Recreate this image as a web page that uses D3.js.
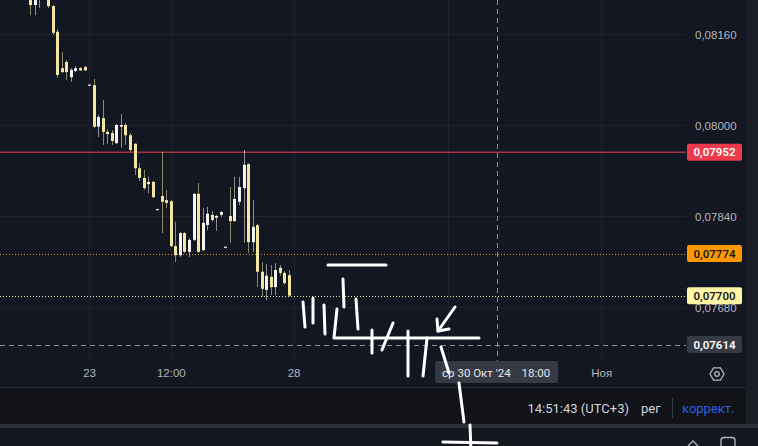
<!DOCTYPE html>
<html><head><meta charset="utf-8">
<script src="https://cdn.jsdelivr.net/npm/d3@7"></script>
<style>
html,body{margin:0;padding:0;background:#131722;overflow:hidden}
svg{display:block;font-family:Roboto,"Noto Sans",sans-serif}
</style></head><body>
<svg id="c" width="758" height="446"></svg>
<script>
// ---- data ----
const opens  = [0.08241,0.08211,0.08225,0.08264,0.08237,0.08209,0.08164,0.08100,0.08111,0.08084,0.08095,0.08100,0.08102,0.08069,0.08070,0.07997,0.08012,0.07988,0.07986,0.07968,0.07997,0.08000,0.07982,0.07967,0.07924,0.07907,0.07896,0.07900,0.07851,0.07875,0.07868,0.07866,0.07787,0.07771,0.07810,0.07777,0.07798,0.07879,0.07780,0.07824,0.07842,0.07837,0.07842,0.07784,0.07840,0.07831,0.07865,0.07889,0.07931,0.07794,0.07824,0.07742,0.07710,0.07733,0.07715,0.07749,0.07740,0.07736];
const highs  = [0.08251,0.08237,0.08273,0.08273,0.08244,0.08211,0.08169,0.08128,0.08114,0.08100,0.08104,0.08102,0.08104,0.08071,0.08081,0.08018,0.08044,0.07993,0.07991,0.08002,0.08019,0.08004,0.07986,0.07968,0.07933,0.07921,0.07909,0.07902,0.07853,0.07953,0.07886,0.07868,0.07830,0.07812,0.07812,0.07801,0.07880,0.07898,0.07854,0.07856,0.07849,0.07842,0.07849,0.07786,0.07891,0.07909,0.07909,0.07956,0.07933,0.07868,0.07826,0.07759,0.07756,0.07754,0.07757,0.07754,0.07743,0.07745];
const lows   = [0.08193,0.08193,0.08206,0.08229,0.08206,0.08158,0.08083,0.08091,0.08079,0.08076,0.08093,0.08095,0.08095,0.08069,0.07995,0.07979,0.07965,0.07967,0.07965,0.07967,0.07960,0.07965,0.07953,0.07912,0.07902,0.07886,0.07880,0.07872,0.07850,0.07810,0.07854,0.07786,0.07759,0.07768,0.07775,0.07768,0.07796,0.07775,0.07778,0.07815,0.07830,0.07814,0.07838,0.07783,0.07793,0.07830,0.07859,0.07793,0.07775,0.07777,0.07715,0.07698,0.07692,0.07701,0.07701,0.07735,0.07719,0.07698];
const closes = [0.08211,0.08230,0.08264,0.08237,0.08209,0.08162,0.08088,0.08093,0.08093,0.08097,0.08100,0.08096,0.08096,0.08071,0.07997,0.08014,0.07988,0.07984,0.07972,0.08000,0.08000,0.07982,0.07956,0.07924,0.07907,0.07889,0.07900,0.07873,0.07852,0.07865,0.07863,0.07787,0.07771,0.07810,0.07777,0.07798,0.07879,0.07777,0.07828,0.07844,0.07833,0.07840,0.07847,0.07786,0.07831,0.07870,0.07891,0.07930,0.07794,0.07821,0.07742,0.07712,0.07735,0.07715,0.07745,0.07740,0.07722,0.07700];

const priceTicks = [0.0816, 0.0800, 0.0784, 0.0768];
const timeTickPos = [13, 31, 58, 125.7];
const timeTickLabels = ["23", "12:00", "28", "Ноя"];
const timeGridPos = [13, 31, 58, 92, 125.7];   // grid at "30" whose label is hidden under the crosshair box

const levelPrices = [0.07952, 0.07774, 0.07700];   // red line, orange line, last price
const crosshairPrice = 0.07614;
const crosshairIndex = 102.8;
const crosshairDate = "ср 30 Окт '24";
const crosshairTime = "18:00";

const statusClock = "14:51:43 (UTC+3)";
const statusSession = "рег";
const statusAdj = "коррект.";

// hand-drawn annotation strokes, in [candle index, price]
const annoStrokes = [
 [[65.58,0.077539],[78.35,0.077539]],
 [[60.08,0.076888],[60.52,0.076448]],
 [[62.28,0.076958],[62.28,0.076519]],
 [[64.70,0.076835],[64.92,0.076325]],
 [[67.56,0.076765],[66.90,0.076255],[98.81,0.076255]],
 [[68.88,0.077292],[69.10,0.076800]],
 [[71.74,0.076941],[72.18,0.076413]],
 [[75.26,0.076396],[75.26,0.075991]],
 [[79.89,0.076519],[77.46,0.076044]],
 [[83.19,0.076378],[83.19,0.075587]],
 [[87.37,0.076255],[86.49,0.075587]],
 [[90.45,0.076097],[92.21,0.075640]],
 [[94.41,0.075464],[95.51,0.074778]],
 [[96.83,0.074725],[97.05,0.074286]],
 [[90.89,0.074427],[102.77,0.074409]],
 [[93.53,0.076800],[89.79,0.076378]],
 [[89.57,0.076589],[89.79,0.076378],[92.21,0.076413]]
];

// ---- layout ----
const W = 758, H = 446, plotR = 686, plotB = 361;
const svg = d3.select("#c");
const x = d3.scaleLinear().domain([0, 57]).range([30, 289]);
const y = d3.scaleLinear().domain([0.0768, 0.0816]).range([307, 34]);
const fmt = d3.formatLocale({decimal: ",", thousands: " ", grouping: [3], currency: ["", ""]}).format(".5f");

const UP = "#f4f4f4", DOWN = "#f3e6a1";

svg.append("rect").attr("width", W).attr("height", H).attr("fill", "#131722");
// status bar & bottom panel
svg.append("rect").attr("x", 0).attr("y", 388).attr("width", 746).attr("height", 36).attr("fill", "#111318");
svg.append("rect").attr("x", 0).attr("y", 387).attr("width", 746).attr("height", 1).attr("fill", "#2a2e39");
svg.append("rect").attr("x", 0).attr("y", 424).attr("width", W).attr("height", 4).attr("fill", "#2c2f37");
svg.append("rect").attr("x", 0).attr("y", 428).attr("width", W).attr("height", 18).attr("fill", "#15181f");
svg.append("rect").attr("x", 746).attr("y", 0).attr("width", 12).attr("height", 424).attr("fill", "#1b1e26");

svg.append("defs").append("clipPath").attr("id", "plot")
  .append("rect").attr("x", 0).attr("y", 0).attr("width", plotR).attr("height", plotB);

// grid
const grid = svg.append("g").attr("stroke", "#1d2130").attr("stroke-width", 1);
grid.selectAll("line.h").data(priceTicks).join("line")
  .attr("x1", 0).attr("x2", plotR)
  .attr("y1", d => Math.round(y(d)) + 0.5).attr("y2", d => Math.round(y(d)) + 0.5);
grid.selectAll("line.v").data(timeGridPos).join("line")
  .attr("y1", 0).attr("y2", plotB)
  .attr("x1", d => Math.round(x(d)) + 0.5).attr("x2", d => Math.round(x(d)) + 0.5);

// price level lines
const plot = svg.append("g").attr("clip-path", "url(#plot)");
plot.append("line").attr("x1", 0).attr("x2", plotR)
  .attr("y1", y(levelPrices[0])).attr("y2", y(levelPrices[0]))
  .attr("stroke", "#c2374a").attr("stroke-width", 1.6).attr("opacity", 0.85);
plot.append("line").attr("x1", 0).attr("x2", plotR)
  .attr("y1", Math.round(y(levelPrices[1])) + 0.5).attr("y2", Math.round(y(levelPrices[1])) + 0.5)
  .attr("stroke", "#e8900e").attr("stroke-width", 1).attr("stroke-dasharray", "1,2");
plot.append("line").attr("x1", 0).attr("x2", plotR)
  .attr("y1", Math.round(y(levelPrices[2])) + 0.5).attr("y2", Math.round(y(levelPrices[2])) + 0.5)
  .attr("stroke", "#e9e3b4").attr("stroke-width", 1).attr("stroke-dasharray", "1,2");

// candles
const idx = opens.map((_, i) => i);
const cg = plot.append("g");
cg.selectAll("line.w").data(idx).join("line")
  .attr("x1", i => Math.round(x(i)) + 0.5).attr("x2", i => Math.round(x(i)) + 0.5)
  .attr("y1", i => y(highs[i])).attr("y2", i => y(lows[i]))
  .attr("stroke", i => closes[i] >= opens[i] ? UP : DOWN)
  .attr("stroke-opacity", 0.55).attr("stroke-width", 1);
cg.selectAll("rect.b").data(idx).join("rect")
  .attr("x", i => Math.round(x(i)) - 1)
  .attr("width", 3)
  .attr("y", i => y(Math.max(opens[i], closes[i])))
  .attr("height", i => Math.max(1, Math.abs(y(opens[i]) - y(closes[i]))))
  .attr("fill", i => closes[i] >= opens[i] ? UP : DOWN);

// crosshair
plot.append("line").attr("x1", 0).attr("x2", plotR)
  .attr("y1", Math.round(y(crosshairPrice)) + 0.5).attr("y2", Math.round(y(crosshairPrice)) + 0.5)
  .attr("stroke", "#8a8e99").attr("stroke-dasharray", "5,4");
plot.append("line").attr("y1", 0).attr("y2", plotB)
  .attr("x1", Math.round(x(crosshairIndex)) + 0.5).attr("x2", Math.round(x(crosshairIndex)) + 0.5)
  .attr("stroke", "#8a8e99").attr("stroke-dasharray", "5,4");

// price axis
const yAxis = d3.axisRight(y).tickValues(priceTicks).tickFormat(fmt).tickSize(0).tickPadding(0);
const ya = svg.append("g").attr("transform", "translate(695,0)").call(yAxis);
ya.select(".domain").remove();
ya.selectAll("text").attr("fill", "#b2b5be").attr("font-size", "11.5px").attr("dy", "0.35em");

// time axis
const xAxis = d3.axisBottom(x).tickValues(timeTickPos).tickFormat((d, i) => timeTickLabels[i]).tickSize(0).tickPadding(0);
const xa = svg.append("g").attr("transform", "translate(0,373)").call(xAxis);
xa.select(".domain").remove();
xa.selectAll("text").attr("fill", "#b2b5be").attr("font-size", "11.5px").attr("dy", "0.35em");

// price labels (boxes)
function priceBox(p, bg, fg) {
  const cy = y(p);
  svg.append("rect").attr("x", 687).attr("y", cy - 8.5).attr("width", 55).attr("height", 17)
    .attr("rx", 2).attr("fill", bg);
  svg.append("text").attr("x", 714.5).attr("y", cy).attr("dy", "0.36em")
    .attr("text-anchor", "middle").attr("font-size", "11.5px").attr("font-weight", 600)
    .attr("fill", fg).text(fmt(p));
}
priceBox(levelPrices[0], "#ec3a4c", "#ffffff");
priceBox(levelPrices[1], "#ff9800", "#1b1b1b");
priceBox(levelPrices[2], "#fff5a6", "#1b1b1b");
priceBox(crosshairPrice, "#363a45", "#ffffff");

// time crosshair label
const cx = x(crosshairIndex);
svg.append("rect").attr("x", cx - 62).attr("y", 361).attr("width", 123).attr("height", 22)
  .attr("rx", 2).attr("fill", "#363a45");
svg.append("text").attr("x", cx - 55).attr("y", 373).attr("dy", "0.35em")
  .attr("font-size", "11.5px").attr("fill", "#e4e6eb").text(crosshairDate);
svg.append("text").attr("x", cx + 53).attr("y", 373).attr("dy", "0.35em").attr("text-anchor", "end")
  .attr("font-size", "11.5px").attr("fill", "#e4e6eb").text(crosshairTime);

// settings icon (hexagon)
const hex = d3.range(6).map(k => {
  const a = Math.PI / 3 * k;
  return [717 + 7 * Math.cos(a), 374 + 7 * Math.sin(a)];
});
svg.append("path").attr("d", d3.line()(hex) + "Z").attr("fill", "none")
  .attr("stroke", "#b2b5be").attr("stroke-width", 1.3);
svg.append("circle").attr("cx", 717).attr("cy", 374).attr("r", 2.3).attr("fill", "none")
  .attr("stroke", "#b2b5be").attr("stroke-width", 1.3);

// status bar texts
svg.append("text").attr("x", 629).attr("y", 408).attr("dy", "0.35em").attr("text-anchor", "end")
  .attr("font-size", "13px").attr("fill", "#d1d4dc").text(statusClock);
svg.append("text").attr("x", 641).attr("y", 408).attr("dy", "0.35em")
  .attr("font-size", "13px").attr("fill", "#d1d4dc").text(statusSession);
svg.append("rect").attr("x", 672).attr("y", 398).attr("width", 1).attr("height", 20).attr("fill", "#363a45");
svg.append("text").attr("x", 682).attr("y", 408).attr("dy", "0.35em")
  .attr("font-size", "13px").attr("fill", "#2f5fe0").text(statusAdj);

// bottom panel icons
svg.append("path").attr("d", "M688,446 L693,441 L698,446").attr("fill", "none")
  .attr("stroke", "#b2b5be").attr("stroke-width", 1.3);
svg.append("path").attr("d", "M721,447 L721,440 Q721,437.5 724,437.5 L732,437.5 Q735,437.5 735,440 L735,447")
  .attr("fill", "none").attr("stroke", "#b2b5be").attr("stroke-width", 1.3);

// annotation strokes
const strokeLine = d3.line().x(d => x(d[0])).y(d => y(d[1]));
svg.append("g").selectAll("path").data(annoStrokes).join("path")
  .attr("d", strokeLine).attr("fill", "none").attr("stroke", "#ffffff")
  .attr("stroke-width", 3).attr("stroke-linecap", "round").attr("stroke-linejoin", "round");
</script>
</body></html>
